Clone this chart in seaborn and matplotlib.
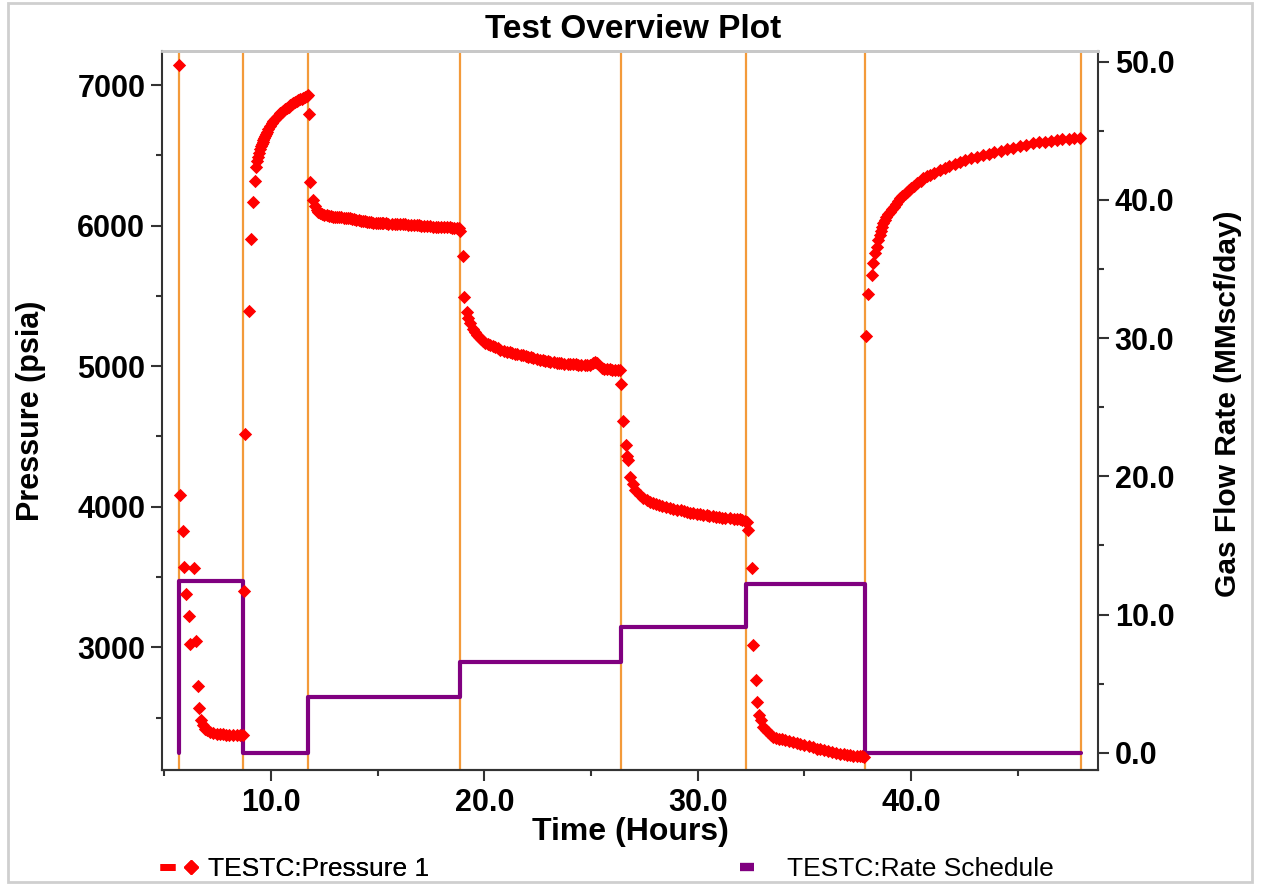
import numpy as np
import pandas as pd
import matplotlib
matplotlib.use("Agg")
import matplotlib.pyplot as plt
import seaborn as sns
from matplotlib.lines import Line2D
from matplotlib.legend_handler import HandlerTuple
from matplotlib.ticker import MultipleLocator, FormatStrFormatter
from matplotlib.patches import Rectangle

# ---------------- data ----------------
# drawdown 1 (12.4 MMscf/d)
t_dd1 = [5.69, 5.71, 5.87, 5.91, 6.03, 6.14, 6.19, 6.38, 6.48, 6.56, 6.64, 6.72, 6.80, 6.91,
         7.00, 7.14, 7.30, 7.45, 7.60, 7.76, 7.90, 8.05, 8.20, 8.39, 8.55, 8.70]
p_dd1 = [7142, 4085, 3826, 3570, 3382, 3221, 3026, 3565, 3043, 2722, 2571, 2485, 2450, 2421,
         2408, 2397, 2390, 2386, 2383, 2381, 2379, 2377, 2376, 2374, 2374, 2373]
# build-up 1
t_bu1 = [8.74, 8.78, 8.97, 9.06, 9.14, 9.25, 9.30, 9.34, 9.38, 9.44, 9.48, 9.52, 9.56, 9.60,
         9.64, 9.68, 9.72, 9.76, 9.80, 9.88, 9.95, 10.03, 10.11, 10.19, 10.27, 10.35, 10.42,
         10.50, 10.58, 10.66, 10.74, 10.82, 10.89, 10.97, 11.05, 11.13, 11.20, 11.28, 11.36,
         11.44, 11.52, 11.60, 11.67, 11.73]
p_bu1 = [3401, 4516, 5394, 5902, 6165, 6319, 6416, 6460, 6490, 6520, 6545, 6563, 6580, 6595,
         6610, 6625, 6640, 6653, 6665, 6690, 6710, 6728, 6745, 6760, 6775, 6787, 6798,
         6808, 6818, 6828, 6838, 6847, 6855, 6863, 6870, 6878, 6885, 6892, 6898,
         6904, 6910, 6915, 6920, 6930]
# flow period 4.0 MMscf/d
t_f40 = [11.77, 11.83, 11.98, 12.05, 12.14, 12.20, 12.30, 12.40, 12.50, 12.60, 12.70, 12.80,
         12.92, 13.00, 13.10, 13.20, 13.30, 13.40, 13.50, 13.60, 13.70, 13.80, 13.90, 14.00,
         14.10, 14.20, 14.30, 14.40, 14.49, 14.60, 14.70, 14.80, 14.90, 15.00, 15.10, 15.20,
         15.27, 15.38, 15.50, 15.65, 15.80, 15.92, 16.05, 16.18, 16.30, 16.42, 16.55, 16.70,
         16.83, 16.95, 17.05, 17.18, 17.30, 17.45, 17.61, 17.73, 17.85, 17.97, 18.10, 18.25,
         18.39, 18.50, 18.60, 18.70, 18.80, 18.86]
p_f40 = [6794, 6307, 6181, 6140, 6110, 6100, 6090, 6083, 6078, 6074, 6070, 6067,
         6063, 6062, 6060, 6059, 6058, 6056, 6054, 6052, 6051, 6048, 6045, 6041,
         6038, 6035, 6032, 6030, 6027, 6025, 6024, 6022, 6021, 6019, 6018, 6017,
         6016, 6015, 6014, 6013, 6012, 6011, 6011, 6009, 6008, 6007, 6006, 6005,
         6004, 6002, 6000, 5998, 5996, 5994, 5992, 5991, 5990, 5989, 5989, 5988,
         5987, 5986, 5986, 5985, 5985, 5963]
# flow period 6.6 MMscf/d
t_f66 = [18.99, 19.06, 19.17, 19.25, 19.33, 19.45, 19.55, 19.64, 19.75, 19.85, 19.95, 20.05,
         20.15, 20.27, 20.40, 20.50, 20.62, 20.75, 20.90, 21.05, 21.18, 21.30, 21.43, 21.55,
         21.70, 21.83, 21.95, 22.05, 22.18, 22.30, 22.45, 22.61, 22.73, 22.85, 22.98, 23.10,
         23.25, 23.39, 23.50, 23.60, 23.75, 23.90, 24.03, 24.17, 24.28, 24.40, 24.55, 24.70,
         24.83, 24.96, 25.10, 25.19, 25.30, 25.50, 25.62, 25.74, 25.87, 26.00, 26.12, 26.25,
         26.36]
p_f66 = [5785, 5493, 5386, 5340, 5304, 5265, 5240, 5221, 5205, 5190, 5178, 5168,
         5158, 5149, 5140, 5134, 5126, 5118, 5110, 5102, 5098, 5094, 5090, 5086,
         5082, 5078, 5072, 5068, 5063, 5058, 5052, 5047, 5043, 5040, 5036, 5032,
         5028, 5024, 5022, 5020, 5018, 5016, 5015, 5014, 5012, 5011, 5010, 5009,
         5008, 5007, 5020, 5031, 5020, 4985, 4980, 4978, 4977, 4976, 4976, 4975,
         4972]
# flow period 9.1 MMscf/d
t_f91 = [26.40, 26.52, 26.63, 26.70, 26.75, 26.83, 26.95, 27.07, 27.30, 27.45, 27.61, 27.75,
         27.90, 28.05, 28.20, 28.35, 28.50, 28.70, 28.86, 29.05, 29.20, 29.35, 29.50, 29.65,
         29.80, 29.95, 30.10, 30.25, 30.42, 30.55, 30.70, 30.85, 31.00, 31.15, 31.30, 31.50,
         31.68, 31.85, 31.99, 32.10, 32.20, 32.30, 32.38]
p_f91 = [4872, 4609, 4438, 4360, 4331, 4212, 4160, 4117, 4080, 4062, 4046, 4035,
         4025, 4017, 4010, 4004, 3998, 3992, 3987, 3980, 3975, 3968, 3962, 3957,
         3952, 3949, 3946, 3943, 3940, 3936, 3932, 3929, 3926, 3923, 3921, 3918,
         3916, 3913, 3910, 3905, 3900, 3892, 3833]
# flow period 12.2 MMscf/d
t_f122 = [32.54, 32.61, 32.74, 32.80, 32.89, 32.95, 33.08, 33.20, 33.30, 33.42, 33.55, 33.68,
          33.80, 33.95, 34.10, 34.30, 34.49, 34.65, 34.80, 35.00, 35.20, 35.40, 35.58, 35.75,
          35.90, 36.10, 36.30, 36.50, 36.68, 36.85, 37.00, 37.15, 37.30, 37.45, 37.62, 37.70,
          37.80]
p_f122 = [3564, 3014, 2765, 2611, 2516, 2480, 2433, 2412, 2395, 2378, 2362, 2355,
          2350, 2345, 2340, 2333, 2327, 2321, 2315, 2306, 2298, 2288, 2279, 2273,
          2268, 2261, 2255, 2249, 2243, 2239, 2235, 2232, 2229, 2226, 2224, 2223,
          2222]
# final build-up
t_bu2 = [37.88, 37.98, 38.16, 38.24, 38.32, 38.40, 38.47, 38.54, 38.60, 38.66, 38.71, 38.78,
         38.85, 38.92, 39.00, 39.09, 39.18, 39.29, 39.40, 39.50, 39.60, 39.70, 39.80, 39.90,
         40.00, 40.15, 40.30, 40.45, 40.58, 40.75, 40.90, 41.10, 41.36, 41.60, 41.80, 42.05,
         42.30, 42.55, 42.80, 43.10, 43.39, 43.65, 43.90, 44.20, 44.49, 44.80, 45.10, 45.40,
         45.74, 46.00, 46.30, 46.55, 46.83, 47.10, 47.40, 47.65, 47.92]
p_bu2 = [5216, 5510, 5648, 5735, 5802, 5850, 5897, 5930, 5960, 5990, 6016, 6040,
         6060, 6080, 6098, 6116, 6134, 6155, 6175, 6193, 6210, 6226, 6241, 6253,
         6265, 6285, 6302, 6320, 6336, 6350, 6362, 6377, 6395, 6410, 6425, 6440,
         6454, 6467, 6480, 6491, 6502, 6512, 6522, 6532, 6542, 6553, 6565, 6575,
         6585, 6592, 6598, 6604, 6609, 6614, 6618, 6622, 6625]

rate_times = [5.69, 5.69, 8.69, 11.73, 18.86, 26.40, 32.27, 37.85, 47.97]
rate_mmscfd = [0.0, 12.4, 0.0, 4.0, 6.6, 9.1, 12.2, 0.0, 0.0]
event_times = [5.69, 8.69, 11.73, 18.86, 26.40, 32.27, 37.85, 47.97]

title = "Test Overview Plot"
xlabel = "Time (Hours)"
ylabel_left = "Pressure (psia)"
ylabel_right = "Gas Flow Rate (MMscf/day)"
legend_labels = ["TESTC:Pressure 1", "TESTC:Rate Schedule"]

time_h = t_dd1 + t_bu1 + t_f40 + t_f66 + t_f91 + t_f122 + t_bu2
pressure_psia = p_dd1 + p_bu1 + p_f40 + p_f66 + p_f91 + p_f122 + p_bu2
pressure_df = pd.DataFrame({"t": time_h, "p": pressure_psia})
rate_df = pd.DataFrame({"t": rate_times, "q": rate_mmscfd})

# ---------------- style ----------------
sns.set_theme(style="white")
plt.rcParams['font.family'] = ['Liberation Sans', 'DejaVu Sans']
plt.rcParams['text.color'] = 'black'
plt.rcParams['axes.labelcolor'] = 'black'
plt.rcParams['xtick.color'] = 'black'
plt.rcParams['ytick.color'] = 'black'

RED = "#FF0000"
PURPLE = "#800080"
ORANGE = "#F39A3A"
DARK = "#333333"

fig = plt.figure(figsize=(12.61, 8.92), dpi=100)
fig.patch.set_facecolor("white")
ax = fig.add_axes([0.1285, 0.1368, 0.7423, 0.8060])
ax2 = ax.twinx()

# pressure axis on top so the markers are drawn over the rate line
ax.set_zorder(ax2.get_zorder() + 1)
ax.patch.set_visible(False)
ax2.patch.set_facecolor("white")

for et in event_times:
    ax2.axvline(et, color=ORANGE, lw=1.6, zorder=1)
sns.lineplot(data=rate_df, x="t", y="q", ax=ax2, color=PURPLE, lw=3,
             drawstyle="steps-post", sort=False, estimator=None, zorder=3)

sns.scatterplot(data=pressure_df, x="t", y="p", ax=ax, marker="D", color=RED,
                s=46, linewidth=0, legend=False, zorder=4)

ax.set_xlim(4.89, 48.77)
ax.set_ylim(2127, 7242)
ax2.set_ylim(-1.25, 50.78)

ax.xaxis.set_major_locator(MultipleLocator(10))
ax.xaxis.set_minor_locator(MultipleLocator(5))
ax.xaxis.set_major_formatter(FormatStrFormatter("%.1f"))
ax.yaxis.set_major_locator(MultipleLocator(1000))
ax.yaxis.set_minor_locator(MultipleLocator(500))
ax2.yaxis.set_major_locator(MultipleLocator(10))
ax2.yaxis.set_minor_locator(MultipleLocator(5))
ax2.yaxis.set_major_formatter(FormatStrFormatter("%.1f"))

tick_font = 22
for a in (ax, ax2):
    a.tick_params(which="major", direction="out", length=8, width=1.5, color=DARK,
                  labelsize=tick_font, labelcolor="black", pad=4)
    a.tick_params(which="minor", direction="out", length=4.5, width=1.5, color=DARK)
ax.tick_params(axis="x", which="both", bottom=True, top=False)
ax.tick_params(axis="x", which="major", pad=5)
ax.tick_params(axis="y", which="both", left=True, right=False)
ax2.tick_params(axis="y", which="both", right=True, left=False)
ax2.tick_params(axis="x", which="both", bottom=False, top=False, labelbottom=False)
for lab in ax.get_xticklabels() + ax.get_yticklabels() + ax2.get_yticklabels():
    lab.set_fontweight("bold")

for a in (ax, ax2):
    for s in a.spines.values():
        s.set_color(DARK)
        s.set_linewidth(1.5)
    a.spines["top"].set_color("#c8c8c8")
    a.spines["top"].set_linewidth(2)
ax.spines["right"].set_visible(False)
ax2.spines["left"].set_visible(False)

ax.set_xlabel(xlabel, fontsize=23, fontweight="bold", va="center")
ax.xaxis.set_label_coords(0.5, -0.086)
ax.set_ylabel(ylabel_left, fontsize=22, fontweight="bold", va="center")
ax.yaxis.set_label_coords(-0.140, 0.5)
ax2.set_ylabel(ylabel_right, fontsize=21.5, fontweight="bold", va="center", rotation=90)
ax2.yaxis.set_label_coords(1.139, 0.509)

fig.text(0.502, 1 - 30 / 892, title, ha="center", va="center",
         fontsize=24, fontweight="bold")

dash = Line2D([], [], color=RED, lw=5, solid_capstyle="butt")
diamond = Line2D([], [], color=RED, marker="D", markersize=7, linestyle="none")
leg1 = fig.legend([(dash, diamond)], [legend_labels[0]],
                  handler_map={tuple: HandlerTuple(ndivide=2, pad=0.35)},
                  loc="center left", bbox_to_anchor=(0.127, 1 - 869 / 892),
                  frameon=False, fontsize=19, handlelength=1.45, handletextpad=0.35,
                  borderpad=0, borderaxespad=0)
rate_handle = Line2D([], [], color=PURPLE, lw=6, solid_capstyle="butt")
leg2 = fig.legend([rate_handle], [legend_labels[1]],
                  loc="center left", bbox_to_anchor=(0.587, 1 - 869 / 892),
                  frameon=False, fontsize=19, handlelength=0.52, handletextpad=1.25,
                  borderpad=0, borderaxespad=0)
fig.add_artist(leg1)

fig.add_artist(Rectangle((8 / 1261, 1 - 882 / 892), 1244 / 1261, 879 / 892,
                         transform=fig.transFigure, fill=False,
                         edgecolor="#cfcfcf", lw=2))

fig.savefig("out.png", dpi=100, facecolor="white")
